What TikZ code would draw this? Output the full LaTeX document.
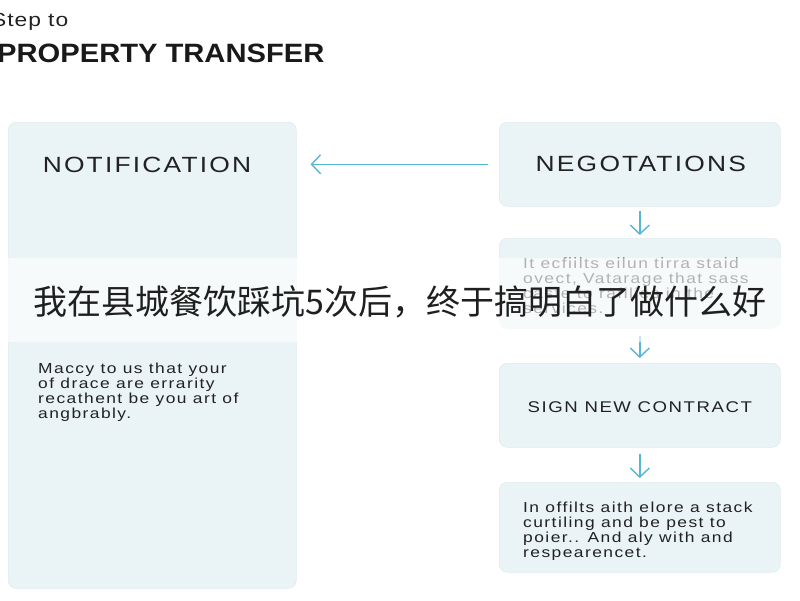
\documentclass[tikz,border=0pt]{standalone}
\usepackage{fontspec}
\setmainfont{Liberation Sans}
\newfontfamily\cjkfont{Noto Sans CJK SC}
\newfontfamily\widefont[FakeStretch=1.2, LetterSpace=10]{Liberation Sans}
\newfontfamily\titlefont[FakeStretch=1.1]{Liberation Sans}
\newfontfamily\stepfont[FakeStretch=1.2, LetterSpace=5]{Liberation Sans}
\usetikzlibrary{arrows.meta}
\definecolor{boxfill}{RGB}{234,243,246}
\definecolor{boxline}{RGB}{224,235,239}
\definecolor{arrowc}{RGB}{88,182,214}
\definecolor{txt}{RGB}{34,34,34}
\begin{document}
\begin{tikzpicture}[x=1pt,y=-1pt,
  panel/.style={fill=boxfill, draw=boxline, line width=0.6pt, rounded corners=8pt, inner sep=0pt, anchor=north west},
  heading/.style={font=\widefont\fontsize{22}{26}\selectfont, text=txt, inner sep=0pt},
  subheading/.style={font=\widefont\fontsize{15.5}{19}\selectfont, text=txt, inner sep=0pt},
  body/.style={font=\widefont\fontsize{14.5}{15}\selectfont, text=txt, align=left, inner sep=0pt, anchor=north west},
  flow/.style={draw=arrowc, line width=1.4pt, -{Straight Barb[length=9pt,width=19pt,line width=1.4pt]}},
]
\useasboundingbox (0,0) rectangle (800,600);
\fill[white] (0,0) rectangle (800,600);

% titles
\node[font=\stepfont\fontsize{19}{22}\selectfont, text=txt, inner sep=0pt, anchor=base west] (stepto) at (-9,26) {Step to};
\node[font=\titlefont\bfseries\fontsize{26.5}{30}\selectfont, text=black!90, inner sep=0pt, anchor=base west] (title) at (-3,62) {PROPERTY TRANSFER};

% panels
\node[panel, minimum width=288pt, minimum height=466pt] (notif) at (8,122) {};
\node[panel, minimum width=281pt, minimum height=84pt] (nego) at (499,122) {};
\node[panel, minimum width=281pt, minimum height=90pt] (info) at (499,238) {};
\node[panel, minimum width=281pt, minimum height=84pt] (sign) at (499,363) {};
\node[panel, minimum width=281pt, minimum height=90pt] (final) at (499,482) {};

% panel texts
\node[heading] (notiftitle) at (147,165) {NOTIFICATION};
\node[heading] (negotitle) at ([xshift=1pt]nego.center) {NEGOTATIONS};
\node[subheading] (signtitle) at ([xshift=0pt,yshift=-2pt]sign.center) {SIGN NEW CONTRACT};

\node[body] (notifbody) at (38,363) {Maccy to us that your\\of drace are errarity\\recathent be you art of\\angbrably.};
\node[body] (infobody) at (523,258) {It ecfiilts eilun tirra staid\\ovect, Vatarage that sass\\caste to rafilies in the\\services.};
\node[body] (finalbody) at (523,502) {In offilts aith elore a stack\\curtiling and be pest to\\poier.. And aly with and\\respearencet.};

% connectors
\draw[flow, shorten <=11pt, shorten >=14pt] (nego.west) -- (nego.west -| notif.east);
\draw[flow, shorten <=4pt, shorten >=3pt] (nego.south) -- (info.north);
\draw[flow, shorten <=7pt, shorten >=5pt] (info.south) -- (sign.north);
\draw[flow, shorten <=6pt, shorten >=4pt] (sign.south) -- (final.north);

% overlay banner
\fill[white, opacity=0.65] (0,258) rectangle (800,342);
\node[font=\cjkfont\fontsize{34}{40}\selectfont, text=black!88, inner sep=0pt] (banner) at (400,302) {我在县城餐饮踩坑5次后，终于搞明白了做什么好};
\end{tikzpicture}
\end{document}
